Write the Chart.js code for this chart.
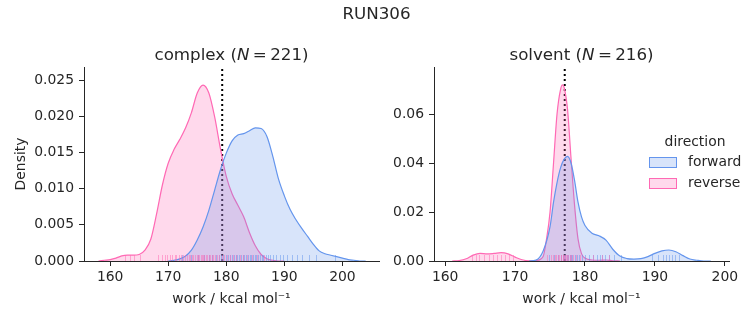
<!DOCTYPE html>
<html>
<head>
<meta charset="utf-8">
<script src="https://cdn.jsdelivr.net/npm/chart.js@4.4.1/dist/chart.umd.min.js"></script>
<style>
  body { margin: 0; background: #fff; }
  #fig { position: relative; width: 753px; height: 325px; font-family: "DejaVu Sans", sans-serif; color: #262626; }
  #fig canvas { position: absolute; top: 0; }
  .lbl { position: absolute; white-space: nowrap; line-height: 1; transform: translate(-50%, -50%); }
  .leg-patch { position: absolute; width: 26px; height: 9px; box-sizing: content-box; }
  .leg-text { position: absolute; white-space: nowrap; line-height: 1; transform: translateY(-50%); font-size: 13.9px; }
</style>
</head>
<body>
<div id="fig">
  <canvas id="complexChart" width="385" height="325" style="left:0"></canvas>
  <canvas id="solventChart" width="368" height="325" style="left:385px"></canvas>

  <div class="lbl" style="left:376.5px; top:13px; font-size:16.7px">RUN306</div>
  <div class="lbl" style="left:231.5px; top:54px; font-size:16.7px">complex (<i>N</i>&#8201;=&#8201;221)</div>
  <div class="lbl" style="left:581.5px; top:54px; font-size:16.7px">solvent (<i>N</i>&#8201;=&#8201;216)</div>

  <!-- legend -->
  <div class="lbl" style="left:695px; top:142px; font-size:13.9px">direction</div>
  <div class="leg-patch" style="left:649px; top:157px; background:rgba(100,149,237,0.25); border:1px solid #6495ED"></div>
  <div class="leg-text" style="left:688px; top:162px">forward</div>
  <div class="leg-patch" style="left:649px; top:178px; background:rgba(255,105,180,0.25); border:1px solid #FF69B4"></div>
  <div class="leg-text" style="left:688px; top:183px">reverse</div>
</div>

<script>
const xTicks = [160, 170, 180, 190, 200];
const complexYTicks = [0, 0.005, 0.01, 0.015, 0.02, 0.025];
const solventYTicks = [0, 0.02, 0.04, 0.06];

// complex KDE curves
const complexForwardX = [170, 171, 172, 173, 174, 175, 176, 177, 178, 179, 180, 181, 182, 183, 184, 185, 186, 187, 188, 189, 190, 191, 192, 193, 194, 195, 196, 197, 198, 199, 200, 201, 202, 203, 204];
const complexForwardY = [0, 0.0001, 0.0003, 0.0007, 0.0015, 0.0029, 0.0047, 0.007, 0.0098, 0.0126, 0.0149, 0.0166, 0.0174, 0.0176, 0.018, 0.0184, 0.0183, 0.0172, 0.0145, 0.0113, 0.009, 0.0071, 0.0057, 0.0045, 0.0034, 0.0023, 0.0014, 0.001, 0.0008, 0.0006, 0.0004, 0.0002, 0.0001, 0, 0];
const complexReverseX = [158, 159, 160, 161, 162, 163, 164, 165, 166, 167, 168, 169, 170, 171, 172, 173, 174, 175, 176, 177, 178, 179, 180, 181, 182, 183, 184, 185, 186, 187, 188, 189, 190];
const complexReverseY = [0, 0.0001, 0.0002, 0.0004, 0.0007, 0.0008, 0.0008, 0.0009, 0.0015, 0.003, 0.0065, 0.0105, 0.0135, 0.0154, 0.0168, 0.0184, 0.0205, 0.0232, 0.0243, 0.0232, 0.0199, 0.0155, 0.0117, 0.0093, 0.0077, 0.0061, 0.0039, 0.0021, 0.0009, 0.0003, 0.0001, 0, 0];

// solvent KDE curves
const solventForwardX = [172, 173, 174, 175, 175.5, 176, 176.5, 177, 177.5, 178, 178.5, 179, 179.5, 180, 181, 182, 183, 184, 185, 186, 187, 188, 189, 190, 191, 192, 193, 194, 195, 196, 197, 198];
const solventForwardY = [0, 0.0004, 0.004, 0.014, 0.024, 0.032, 0.038, 0.0415, 0.0427, 0.04, 0.033, 0.024, 0.018, 0.0145, 0.0113, 0.0103, 0.0085, 0.0047, 0.002, 0.001, 0.0008, 0.001, 0.0018, 0.0031, 0.0041, 0.0045, 0.0038, 0.0022, 0.0008, 0.0003, 0, 0];
const solventReverseX = [161, 162, 163, 164, 165, 166, 167, 168, 169, 170, 171, 172, 173, 174, 174.5, 175, 175.5, 176, 176.5, 176.8, 177, 177.5, 178, 178.5, 179, 179.5, 180, 181, 182, 183, 184, 185];
const solventReverseY = [0, 0.0002, 0.0009, 0.0024, 0.0031, 0.0029, 0.0031, 0.0034, 0.0029, 0.0016, 0.0005, 0.0001, 0.0002, 0.0018, 0.009, 0.02, 0.04, 0.06, 0.07, 0.0719, 0.071, 0.062, 0.042, 0.023, 0.009, 0.003, 0.0012, 0.0004, 0.0003, 0.0004, 0.0001, 0];

// individual work values (rug)
const complexForwardRug = [172.4, 174.0, 175.2, 176.1, 177.0, 177.6, 178.2, 178.7, 179.1, 179.5, 179.9, 180.3, 180.6, 181.0, 181.3, 181.6, 181.9, 182.2, 182.5, 182.8, 183.1, 183.4, 183.7, 184.0, 184.3, 184.6, 184.9, 185.2, 185.5, 185.8, 186.1, 186.4, 186.8, 187.2, 187.6, 188.1, 188.6, 189.2, 189.8, 190.5, 191.3, 192.1, 193.0, 194.2, 195.4, 198.8];
const complexReverseRug = [162.6, 163.4, 164.1, 165.2, 168.3, 168.9, 169.4, 169.8, 170.3, 170.7, 171.1, 171.4, 171.8, 172.2, 172.5, 172.9, 173.2, 173.5, 173.8, 174.1, 174.3, 174.6, 174.9, 175.1, 175.3, 175.6, 175.8, 176.0, 176.2, 176.5, 176.7, 177.0, 177.2, 177.5, 177.8, 178.1, 178.4, 178.8, 179.2, 179.6, 180.1, 180.6, 181.1, 181.7, 182.3, 182.9, 183.6, 184.4, 185.3, 186.5];
const solventForwardRug = [174.8, 175.6, 176.1, 176.5, 176.8, 177.0, 177.2, 177.4, 177.6, 177.8, 178.0, 178.2, 178.5, 178.8, 179.1, 179.5, 180.0, 180.6, 181.2, 181.7, 182.1, 182.5, 182.9, 183.4, 184.2, 185.1, 189.6, 190.4, 191.1, 191.6, 192.0, 192.4, 192.9, 193.5];
const solventReverseRug = [163.8, 164.4, 164.9, 165.5, 166.2, 166.9, 167.4, 168.0, 168.5, 169.1, 169.7, 174.6, 175.1, 175.4, 175.7, 175.9, 176.1, 176.3, 176.5, 176.6, 176.8, 176.9, 177.0, 177.1, 177.3, 177.4, 177.6, 177.8, 178.0, 178.3, 178.7, 179.3, 181.2, 182.4, 183.5];

// free energy estimate (dotted line)
const complexMarker = 179.3;
const solventMarker = 177.1;

const BLUE = '#6495ED';
const PINK = '#FF69B4';
const INK = '#262626';
const FONT = "'DejaVu Sans', sans-serif";

Chart.defaults.font.family = FONT;
Chart.defaults.color = INK;

function toPoints(xs, ys) {
  return xs.map((x, i) => ({ x: x, y: ys[i] }));
}

function kdeDataset(xs, ys, color, fillColor) {
  return {
    data: toPoints(xs, ys),
    borderColor: color,
    backgroundColor: fillColor,
    borderWidth: 1.2,
    fill: 'origin',
    pointRadius: 0,
    cubicInterpolationMode: 'monotone'
  };
}

// small ticks along the bottom for each observation
const rugPlugin = {
  id: 'rug',
  afterDatasetsDraw(chart, args, opts) {
    const ctx = chart.ctx;
    const xs = chart.scales.x;
    const bottom = chart.chartArea.bottom;
    ctx.save();
    ctx.lineWidth = 1;
    opts.sets.forEach(set => {
      ctx.strokeStyle = set.color;
      ctx.globalAlpha = 0.5;
      set.values.forEach(v => {
        const px = Math.round(xs.getPixelForValue(v)) + 0.5;
        ctx.beginPath();
        ctx.moveTo(px, bottom);
        ctx.lineTo(px, bottom - 6);
        ctx.stroke();
      });
    });
    ctx.restore();
  }
};

function makeChart(id, opts) {
  const ctx = document.getElementById(id).getContext('2d');
  return new Chart(ctx, {
    type: 'line',
    data: {
      datasets: [
        kdeDataset(opts.fwdX, opts.fwdY, BLUE, 'rgba(100,149,237,0.25)'),
        kdeDataset(opts.revX, opts.revY, PINK, 'rgba(255,105,180,0.25)'),
        {
          data: [{ x: opts.marker, y: 0 }, { x: opts.marker, y: opts.yMax }],
          borderColor: '#000',
          borderWidth: 2,
          borderDash: [2, 3],
          pointRadius: 0,
          fill: false
        }
      ]
    },
    options: {
      responsive: false,
      animation: false,
      devicePixelRatio: 1,
      layout: { padding: { top: 67, right: opts.padRight, left: 0, bottom: 0 } },
      plugins: {
        legend: { display: false },
        tooltip: { enabled: false },
        rug: { sets: [
          { values: opts.fwdRug, color: BLUE },
          { values: opts.revRug, color: PINK }
        ] }
      },
      scales: {
        x: {
          type: 'linear',
          min: opts.xMin,
          max: opts.xMax,
          afterBuildTicks: axis => { axis.ticks = xTicks.map(v => ({ value: v })); },
          afterFit: axis => { axis.height = 64; },
          grid: { display: true, drawOnChartArea: false, drawTicks: true, tickLength: 5, color: INK },
          border: { display: true, color: INK, width: 1 },
          ticks: { font: { size: 13.9 }, padding: 3, maxRotation: 0, callback: v => v },
          title: { display: true, text: 'work / kcal mol\u207B\u00B9', font: { size: 13.9 }, padding: { top: 0, bottom: 17.7 } }
        },
        y: {
          type: 'linear',
          min: 0,
          max: opts.yMax,
          afterBuildTicks: axis => { axis.ticks = opts.yTicks.map(v => ({ value: v })); },
          afterFit: axis => { axis.width = opts.yWidth; },
          grid: { display: true, drawOnChartArea: false, drawTicks: true, tickLength: 5, color: INK },
          border: { display: true, color: INK, width: 1 },
          ticks: { font: { size: 13.9 }, padding: 5, callback: v => v.toFixed(opts.digits) },
          title: { display: !!opts.yTitle, text: opts.yTitle, font: { size: 13.9 }, padding: { top: 13.4, bottom: 0 } }
        }
      }
    },
    plugins: [rugPlugin]
  });
}

makeChart('complexChart', {
  fwdX: complexForwardX, fwdY: complexForwardY,
  revX: complexReverseX, revY: complexReverseY,
  fwdRug: complexForwardRug, revRug: complexReverseRug,
  marker: complexMarker,
  xMin: 155.5, xMax: 206.3,
  yMax: 0.0268, yTicks: complexYTicks, digits: 3,
  yWidth: 84, padRight: 6, yTitle: 'Density'
});

makeChart('solventChart', {
  fwdX: solventForwardX, fwdY: solventForwardY,
  revX: solventReverseX, revY: solventReverseY,
  fwdRug: solventForwardRug, revRug: solventReverseRug,
  marker: solventMarker,
  xMin: 158.4, xMax: 200.6,
  yMax: 0.0792, yTicks: solventYTicks, digits: 2,
  yWidth: 49, padRight: 24, yTitle: ''
});
</script>
</body>
</html>
